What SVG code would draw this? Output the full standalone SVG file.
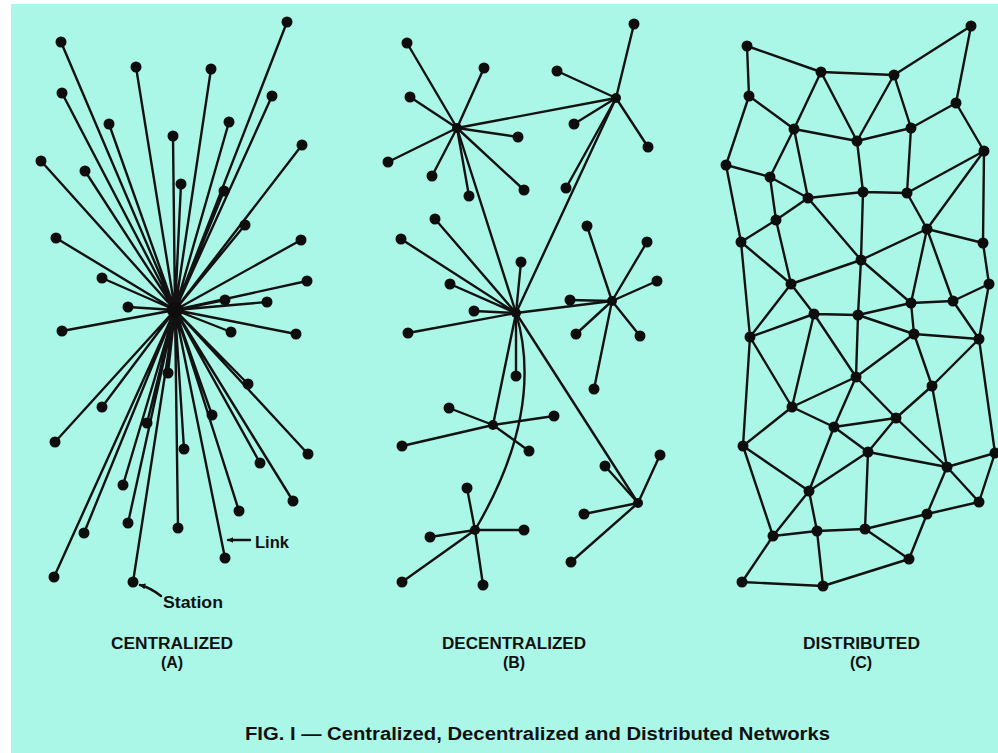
<svg xmlns="http://www.w3.org/2000/svg" width="998" height="753" viewBox="0 0 998 753">
<style>
.e{stroke:#121212;stroke-width:2.4;fill:none;stroke-linecap:round}
.n{fill:#0d0d0d}
.h{fill:#0d0d0d}
.t{font-family:"Liberation Sans",Arial,sans-serif;font-weight:bold;fill:#111;font-size:16px}
</style>
<defs>
<marker id="ah" viewBox="0 0 10 10" refX="9" refY="5" markerWidth="6" markerHeight="6" orient="auto" markerUnits="userSpaceOnUse">
<path d="M0,0 L10,5 L0,10 z" fill="#111"/>
</marker>
</defs>
<rect width="998" height="753" fill="#ffffff"/>
<rect x="11" y="4" width="987" height="749" fill="#abf7e7"/>

<g id="connectors">
<!-- Centralized -->
<g id="conn-a">
<path class="e" d="M175,310L287,22M175,310L61,42M175,310L136,67M175,310L211,69M175,310L62,93M175,310L272,96M175,310L109,124M175,310L229,122M175,310L173,136M175,310L302,145M175,310L41,161M175,310L85,171M175,310L181,184M175,310L224,191M175,310L245,225M175,310L56,238M175,310L301,240M175,310L102,278M175,310L307,281M175,310L225,300M175,310L267,302M175,310L128,307M175,310L62,331M175,310L231,332M175,310L296,334M175,310L168,373M175,310L248,384M175,310L102,407M175,310L212,415M175,310L147,423M175,310L55,442M175,310L184,449M175,310L308,454M175,310L260,463M175,310L123,485M175,310L293,501M175,310L239,511M175,310L128,523M175,310L84,533M175,310L178,528M175,310L225,558M175,310L54,577M175,310L133,582"/>
</g>
<!-- Decentralized -->
<g id="conn-b">
<path class="e" d="M457,128L407,43M457,128L484,68M457,128L410,97M457,128L518,137M457,128L388,162M457,128L432,176M457,128L469,196M457,128L524,190"/>
<path class="e" d="M616,98L634,24M616,98L557,71M616,98L574,124M616,98L648,147M616,98L566,188"/>
<path class="e" d="M516,313L435,219M516,313L401,239M516,313L521,262M516,313L450,284M516,313L474,311M516,313L408,333M516,313L516,376"/>
<path class="e" d="M612,301L587,226M612,301L647,242M612,301L657,281M612,301L570,300M612,301L576,334M612,301L640,336M612,301L594,389"/>
<path class="e" d="M493,425L449,408M493,425L554,416M493,425L402,446M493,425L529,451"/>
<path class="e" d="M475,530L467,488M475,530L524,530M475,530L430,537M475,530L402,582M475,530L483,585"/>
<path class="e" d="M638,503L660,455M638,503L605,466M638,503L584,514M638,503L571,562"/>
<path class="e" d="M457,128L616,98M457,128L516,313M616,98L516,313M516,313L612,301M516,313L493,425M516,313L638,503"/>
<path class="e" d="M516,313C530,360 534,430 475,530"/>
</g>
<!-- Distributed -->
<g id="conn-c">
<path class="e" d="M747,46L821,72M747,46L749,96M821,72L894,75M894,75L971,26M971,26L956,103M821,72L794,129M821,72L857,141M894,75L857,141M894,75L911,128M956,103L911,128M956,103L984,151M749,96L794,129M749,96L726,165M794,129L857,141M857,141L911,128M794,129L770,177M794,129L808,198M726,165L770,177M770,177L808,198M770,177L776,220M857,141L863,192M911,128L907,193M863,192L808,198M863,192L907,193M907,193L984,151M984,151L927,229M984,151L983,243M907,193L927,229M726,165L741,242M776,220L808,198M776,220L741,242M776,220L791,284M808,198L861,260M863,192L861,260M927,229L861,260M927,229L983,243M927,229L911,303M927,229L953,301M741,242L791,284M983,243L989,284M861,260L791,284M861,260L911,303M911,303L953,301M953,301L989,284"/>
<path class="e" d="M791,284L750,337M791,284L814,314M741,242L750,337M861,260L858,315M750,337L814,314M814,314L858,315M858,315L911,303M858,315L914,334M911,303L914,334M914,334L979,339M953,301L979,339M989,284L979,339M858,315L856,377M814,314L856,377M814,314L792,407M750,337L792,407M750,337L743,446M914,334L856,377M914,334L932,386M979,339L932,386M979,339L995,453M856,377L792,407M856,377L834,427M856,377L896,418M932,386L896,418M932,386L947,467M792,407L743,446M792,407L834,427M834,427L896,418M834,427L868,452M896,418L868,452M896,418L947,467M834,427L809,491M743,446L809,491M743,446L773,536M868,452L809,491M868,452L947,467M868,452L865,529M995,453L947,467M995,453L979,502M947,467L979,502M947,467L927,514M809,491L773,536M809,491L817,531M773,536L817,531M817,531L865,529M865,529L927,514M927,514L979,502M865,529L909,559M927,514L909,559M773,536L742,582M817,531L823,586M742,582L823,586M823,586L909,559"/>
</g>
<g id="annotations">
<path class="e" d="M250,540L228,540" marker-end="url(#ah)" stroke-width="2"/>
<path class="e" d="M161,596Q151,588 140,585" marker-end="url(#ah)" stroke-width="2"/>
</g>
</g>

<g id="nodes-a">
<g id="a0"><circle class="h" cx="175" cy="310" r="8"/></g>
<g id="a1"><circle class="n" cx="287" cy="22" r="5.5"/></g>
<g id="a2"><circle class="n" cx="61" cy="42" r="5.5"/></g>
<g id="a3"><circle class="n" cx="136" cy="67" r="5.5"/></g>
<g id="a4"><circle class="n" cx="211" cy="69" r="5.5"/></g>
<g id="a5"><circle class="n" cx="62" cy="93" r="5.5"/></g>
<g id="a6"><circle class="n" cx="272" cy="96" r="5.5"/></g>
<g id="a7"><circle class="n" cx="109" cy="124" r="5.5"/></g>
<g id="a8"><circle class="n" cx="229" cy="122" r="5.5"/></g>
<g id="a9"><circle class="n" cx="173" cy="136" r="5.5"/></g>
<g id="a10"><circle class="n" cx="302" cy="145" r="5.5"/></g>
<g id="a11"><circle class="n" cx="41" cy="161" r="5.5"/></g>
<g id="a12"><circle class="n" cx="85" cy="171" r="5.5"/></g>
<g id="a13"><circle class="n" cx="181" cy="184" r="5.5"/></g>
<g id="a14"><circle class="n" cx="224" cy="191" r="5.5"/></g>
<g id="a15"><circle class="n" cx="245" cy="225" r="5.5"/></g>
<g id="a16"><circle class="n" cx="56" cy="238" r="5.5"/></g>
<g id="a17"><circle class="n" cx="301" cy="240" r="5.5"/></g>
<g id="a18"><circle class="n" cx="102" cy="278" r="5.5"/></g>
<g id="a19"><circle class="n" cx="307" cy="281" r="5.5"/></g>
<g id="a20"><circle class="n" cx="225" cy="300" r="5.5"/></g>
<g id="a21"><circle class="n" cx="267" cy="302" r="5.5"/></g>
<g id="a22"><circle class="n" cx="128" cy="307" r="5.5"/></g>
<g id="a23"><circle class="n" cx="62" cy="331" r="5.5"/></g>
<g id="a24"><circle class="n" cx="231" cy="332" r="5.5"/></g>
<g id="a25"><circle class="n" cx="296" cy="334" r="5.5"/></g>
<g id="a26"><circle class="n" cx="168" cy="373" r="5.5"/></g>
<g id="a27"><circle class="n" cx="248" cy="384" r="5.5"/></g>
<g id="a28"><circle class="n" cx="102" cy="407" r="5.5"/></g>
<g id="a29"><circle class="n" cx="212" cy="415" r="5.5"/></g>
<g id="a30"><circle class="n" cx="147" cy="423" r="5.5"/></g>
<g id="a31"><circle class="n" cx="55" cy="442" r="5.5"/></g>
<g id="a32"><circle class="n" cx="184" cy="449" r="5.5"/></g>
<g id="a33"><circle class="n" cx="308" cy="454" r="5.5"/></g>
<g id="a34"><circle class="n" cx="260" cy="463" r="5.5"/></g>
<g id="a35"><circle class="n" cx="123" cy="485" r="5.5"/></g>
<g id="a36"><circle class="n" cx="293" cy="501" r="5.5"/></g>
<g id="a37"><circle class="n" cx="239" cy="511" r="5.5"/></g>
<g id="a38"><circle class="n" cx="128" cy="523" r="5.5"/></g>
<g id="a39"><circle class="n" cx="84" cy="533" r="5.5"/></g>
<g id="a40"><circle class="n" cx="178" cy="528" r="5.5"/></g>
<g id="a41"><circle class="n" cx="225" cy="558" r="5.5"/></g>
<g id="a42"><circle class="n" cx="54" cy="577" r="5.5"/></g>
<g id="a43"><circle class="n" cx="133" cy="582" r="5.5"/></g>
</g>

<g id="nodes-b">
<g id="b-h1"><circle class="h" cx="457" cy="128" r="5"/></g>
<g id="b-h2"><circle class="h" cx="616" cy="98" r="5"/></g>
<g id="b-h3"><circle class="h" cx="516" cy="313" r="5"/></g>
<g id="b-h4"><circle class="h" cx="612" cy="301" r="5"/></g>
<g id="b-h5"><circle class="h" cx="493" cy="425" r="5"/></g>
<g id="b-h6"><circle class="h" cx="475" cy="530" r="5"/></g>
<g id="b-h7"><circle class="h" cx="638" cy="503" r="5"/></g>
<g id="b1"><circle class="n" cx="407" cy="43" r="5.5"/></g>
<g id="b2"><circle class="n" cx="484" cy="68" r="5.5"/></g>
<g id="b3"><circle class="n" cx="410" cy="97" r="5.5"/></g>
<g id="b4"><circle class="n" cx="518" cy="137" r="5.5"/></g>
<g id="b5"><circle class="n" cx="388" cy="162" r="5.5"/></g>
<g id="b6"><circle class="n" cx="432" cy="176" r="5.5"/></g>
<g id="b7"><circle class="n" cx="469" cy="196" r="5.5"/></g>
<g id="b8"><circle class="n" cx="524" cy="190" r="5.5"/></g>
<g id="b9"><circle class="n" cx="634" cy="24" r="5.5"/></g>
<g id="b10"><circle class="n" cx="557" cy="71" r="5.5"/></g>
<g id="b11"><circle class="n" cx="574" cy="124" r="5.5"/></g>
<g id="b12"><circle class="n" cx="648" cy="147" r="5.5"/></g>
<g id="b13"><circle class="n" cx="566" cy="188" r="5.5"/></g>
<g id="b14"><circle class="n" cx="435" cy="219" r="5.5"/></g>
<g id="b15"><circle class="n" cx="401" cy="239" r="5.5"/></g>
<g id="b16"><circle class="n" cx="521" cy="262" r="5.5"/></g>
<g id="b17"><circle class="n" cx="450" cy="284" r="5.5"/></g>
<g id="b18"><circle class="n" cx="474" cy="311" r="5.5"/></g>
<g id="b19"><circle class="n" cx="408" cy="333" r="5.5"/></g>
<g id="b20"><circle class="n" cx="516" cy="376" r="5.5"/></g>
<g id="b21"><circle class="n" cx="587" cy="226" r="5.5"/></g>
<g id="b22"><circle class="n" cx="647" cy="242" r="5.5"/></g>
<g id="b23"><circle class="n" cx="657" cy="281" r="5.5"/></g>
<g id="b24"><circle class="n" cx="570" cy="300" r="5.5"/></g>
<g id="b25"><circle class="n" cx="576" cy="334" r="5.5"/></g>
<g id="b26"><circle class="n" cx="640" cy="336" r="5.5"/></g>
<g id="b27"><circle class="n" cx="594" cy="389" r="5.5"/></g>
<g id="b28"><circle class="n" cx="449" cy="408" r="5.5"/></g>
<g id="b29"><circle class="n" cx="554" cy="416" r="5.5"/></g>
<g id="b30"><circle class="n" cx="402" cy="446" r="5.5"/></g>
<g id="b31"><circle class="n" cx="529" cy="451" r="5.5"/></g>
<g id="b32"><circle class="n" cx="467" cy="488" r="5.5"/></g>
<g id="b33"><circle class="n" cx="524" cy="530" r="5.5"/></g>
<g id="b34"><circle class="n" cx="430" cy="537" r="5.5"/></g>
<g id="b35"><circle class="n" cx="402" cy="582" r="5.5"/></g>
<g id="b36"><circle class="n" cx="483" cy="585" r="5.5"/></g>
<g id="b37"><circle class="n" cx="660" cy="455" r="5.5"/></g>
<g id="b38"><circle class="n" cx="605" cy="466" r="5.5"/></g>
<g id="b39"><circle class="n" cx="584" cy="514" r="5.5"/></g>
<g id="b40"><circle class="n" cx="571" cy="562" r="5.5"/></g>
</g>

<g id="nodes-c">
<g id="c1"><circle class="n" cx="747" cy="46" r="5.5"/></g>
<g id="c2"><circle class="n" cx="971" cy="26" r="5.5"/></g>
<g id="c3"><circle class="n" cx="821" cy="72" r="5.5"/></g>
<g id="c4"><circle class="n" cx="894" cy="75" r="5.5"/></g>
<g id="c5"><circle class="n" cx="749" cy="96" r="5.5"/></g>
<g id="c6"><circle class="n" cx="956" cy="103" r="5.5"/></g>
<g id="c7"><circle class="n" cx="794" cy="129" r="5.5"/></g>
<g id="c8"><circle class="n" cx="911" cy="128" r="5.5"/></g>
<g id="c9"><circle class="n" cx="857" cy="141" r="5.5"/></g>
<g id="c10"><circle class="n" cx="984" cy="151" r="5.5"/></g>
<g id="c11"><circle class="n" cx="726" cy="165" r="5.5"/></g>
<g id="c12"><circle class="n" cx="770" cy="177" r="5.5"/></g>
<g id="c13"><circle class="n" cx="863" cy="192" r="5.5"/></g>
<g id="c14"><circle class="n" cx="907" cy="193" r="5.5"/></g>
<g id="c15"><circle class="n" cx="808" cy="198" r="5.5"/></g>
<g id="c16"><circle class="n" cx="776" cy="220" r="5.5"/></g>
<g id="c17"><circle class="n" cx="927" cy="229" r="5.5"/></g>
<g id="c18"><circle class="n" cx="741" cy="242" r="5.5"/></g>
<g id="c19"><circle class="n" cx="983" cy="243" r="5.5"/></g>
<g id="c20"><circle class="n" cx="861" cy="260" r="5.5"/></g>
<g id="c21"><circle class="n" cx="791" cy="284" r="5.5"/></g>
<g id="c22"><circle class="n" cx="989" cy="284" r="5.5"/></g>
<g id="c23"><circle class="n" cx="911" cy="303" r="5.5"/></g>
<g id="c24"><circle class="n" cx="953" cy="301" r="5.5"/></g>
<g id="d1"><circle class="n" cx="814" cy="314" r="5.5"/></g>
<g id="d2"><circle class="n" cx="858" cy="315" r="5.5"/></g>
<g id="d3"><circle class="n" cx="750" cy="337" r="5.5"/></g>
<g id="d4"><circle class="n" cx="914" cy="334" r="5.5"/></g>
<g id="d5"><circle class="n" cx="979" cy="339" r="5.5"/></g>
<g id="d6"><circle class="n" cx="856" cy="377" r="5.5"/></g>
<g id="d7"><circle class="n" cx="932" cy="386" r="5.5"/></g>
<g id="d8"><circle class="n" cx="792" cy="407" r="5.5"/></g>
<g id="d9"><circle class="n" cx="896" cy="418" r="5.5"/></g>
<g id="d10"><circle class="n" cx="834" cy="427" r="5.5"/></g>
<g id="d11"><circle class="n" cx="743" cy="446" r="5.5"/></g>
<g id="d12"><circle class="n" cx="868" cy="452" r="5.5"/></g>
<g id="d13"><circle class="n" cx="995" cy="453" r="5.5"/></g>
<g id="d14"><circle class="n" cx="947" cy="467" r="5.5"/></g>
<g id="d15"><circle class="n" cx="809" cy="491" r="5.5"/></g>
<g id="d16"><circle class="n" cx="979" cy="502" r="5.5"/></g>
<g id="d17"><circle class="n" cx="927" cy="514" r="5.5"/></g>
<g id="d18"><circle class="n" cx="773" cy="536" r="5.5"/></g>
<g id="d19"><circle class="n" cx="817" cy="531" r="5.5"/></g>
<g id="d20"><circle class="n" cx="865" cy="529" r="5.5"/></g>
<g id="d21"><circle class="n" cx="909" cy="559" r="5.5"/></g>
<g id="d22"><circle class="n" cx="742" cy="582" r="5.5"/></g>
<g id="d23"><circle class="n" cx="823" cy="586" r="5.5"/></g>
</g>

<g id="labels">
<text class="t" x="255" y="548" textLength="34" lengthAdjust="spacingAndGlyphs">Link</text>
<text class="t" x="163" y="608" textLength="60" lengthAdjust="spacingAndGlyphs">Station</text>
<text class="t" x="111" y="649" textLength="122" lengthAdjust="spacingAndGlyphs">CENTRALIZED</text>
<text class="t" x="172" y="668" text-anchor="middle">(A)</text>
<text class="t" x="442" y="649" textLength="144" lengthAdjust="spacingAndGlyphs">DECENTRALIZED</text>
<text class="t" x="514" y="668" text-anchor="middle">(B)</text>
<text class="t" x="803" y="649" textLength="117" lengthAdjust="spacingAndGlyphs">DISTRIBUTED</text>
<text class="t" x="861" y="668" text-anchor="middle">(C)</text>
<text class="t" x="245" y="740" style="font-size:18px" textLength="585" lengthAdjust="spacingAndGlyphs">FIG. I — Centralized, Decentralized and Distributed Networks</text>
</g>
</svg>
